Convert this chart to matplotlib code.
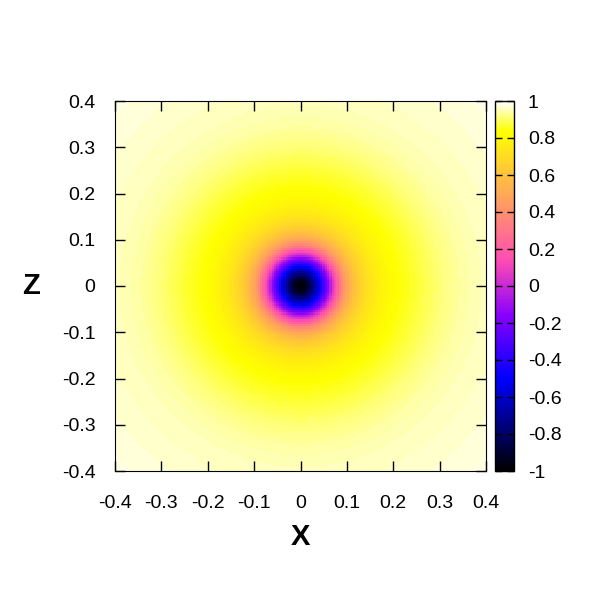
import matplotlib.pyplot as plt
import numpy as np
from matplotlib.colors import LinearSegmentedColormap

plt.rcParams['font.family'] = ['Liberation Sans', 'DejaVu Sans']

# radial profile of the field (radius -> value)
radius = [0.0, 0.01, 0.02, 0.03, 0.04, 0.05, 0.06, 0.07, 0.08, 0.09, 0.10,
          0.12, 0.14, 0.16, 0.18, 0.20, 0.25, 0.30, 0.35, 0.40, 0.50, 0.57]
value = [-1.0, -0.96, -0.85, -0.70, -0.55, -0.35, -0.15, 0.05, 0.22, 0.37, 0.48,
         0.62, 0.70, 0.76, 0.80, 0.83, 0.87, 0.91, 0.94, 0.955, 0.97, 0.98]

# grid coordinates
xs = np.linspace(-0.4, 0.4, 161)
zs = np.linspace(-0.4, 0.4, 161)
ticks = [-0.4, -0.3, -0.2, -0.1, 0, 0.1, 0.2, 0.3, 0.4]
cb_ticks = [-1, -0.8, -0.6, -0.4, -0.2, 0, 0.2, 0.4, 0.6, 0.8, 1]

X, Z = np.meshgrid(xs, zs)
R = np.sqrt(X**2 + Z**2)
F = np.interp(R, radius, value)

# gnuplot palette rgbformulae 30,31,32 (black-blue-violet-yellow-white)
t = np.linspace(0, 1, 256)
r = np.clip(t / 0.32 - 0.78125, 0, 1)
g = np.clip(2 * t - 0.84, 0, 1)
b = np.where(t < 0.25, 4 * t,
             np.where(t < 0.42, 1,
                      np.where(t < 0.92, -2 * t + 1.84, t / 0.08 - 11.5)))
b = np.clip(b, 0, 1)
cmap = LinearSegmentedColormap.from_list("gp", np.column_stack([r, g, b]))

fig = plt.figure(figsize=(6, 6), dpi=100)
ax = fig.add_axes([115 / 600, 129 / 600, 371 / 600, 370 / 600])
cax = fig.add_axes([495 / 600, 129 / 600, 19 / 600, 370 / 600])

im = ax.imshow(F, cmap=cmap, vmin=-1, vmax=1, origin="lower",
               extent=[-0.4, 0.4, -0.4, 0.4], interpolation="nearest", aspect="auto")

ax.set_xticks(ticks)
ax.set_yticks(ticks)
ax.set_xticklabels(["%g" % v for v in ticks])
ax.set_yticklabels(["%g" % v for v in ticks])
ax.tick_params(direction="in", top=True, right=True, length=7, width=1,
               labelsize=14)
ax.tick_params(axis="x", pad=17)
ax.tick_params(axis="y", pad=14)
ax.set_xlabel("X", fontsize=21, fontweight="bold", labelpad=8)
ax.set_ylabel("Z", fontsize=21, fontweight="bold", rotation=0, labelpad=22, va="center")

cb = fig.colorbar(im, cax=cax, ticks=cb_ticks)
cb.ax.set_yticklabels(["%g" % v for v in cb_ticks])
cb.ax.tick_params(direction="in", left=True, right=True, length=5, width=1,
                  labelsize=14, pad=10)
cb.outline.set_linewidth(1)

fig.savefig("out.png", dpi=100)
